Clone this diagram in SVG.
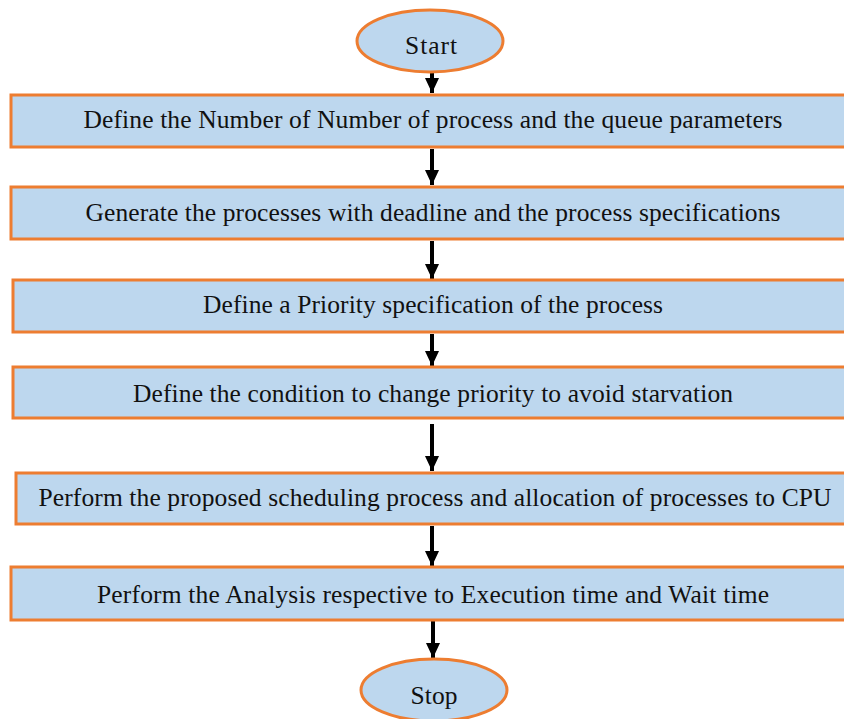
<svg xmlns="http://www.w3.org/2000/svg" width="844" height="719" viewBox="0 0 844 719">
<style>
.box{fill:#BDD7EE;stroke:#ED7D31;stroke-width:3}
.t{font-family:"Liberation Serif","Times New Roman",serif;font-size:25.5px;fill:#111;text-anchor:middle}
.c{stroke:#000;stroke-width:4;fill:none;marker-end:url(#ah)}
</style>
<defs>
<marker id="ah" markerUnits="userSpaceOnUse" markerWidth="16" markerHeight="14" refX="15" refY="7" orient="auto">
<path d="M0,0 L15,7 L0,14 Z" fill="#000"/>
</marker>
</defs>
<rect width="844" height="719" fill="#fff"/>
<g id="connectors">
<line class="c" x1="432" y1="73" x2="432" y2="93"/>
<line class="c" x1="432" y1="149" x2="432" y2="185"/>
<line class="c" x1="432" y1="241" x2="432" y2="279"/>
<line class="c" x1="432" y1="334" x2="432" y2="366"/>
<line class="c" x1="432" y1="424" x2="432" y2="471"/>
<line class="c" x1="432" y1="526" x2="432" y2="566"/>
<line class="c" x1="433" y1="621" x2="433" y2="658"/>
</g>
<g id="start">
<ellipse class="box" cx="430" cy="41" rx="73" ry="31"/>
<text class="t" x="431" y="54" textLength="52">Start</text>
</g>
<g id="step1">
<rect class="box" x="11" y="95" width="840" height="52"/>
<text class="t" x="433" y="128" textLength="699">Define the Number of Number of process and the queue parameters</text>
</g>
<g id="step2">
<rect class="box" x="11" y="187" width="840" height="52"/>
<text class="t" x="433" y="221" textLength="695">Generate the processes with deadline and the process specifications</text>
</g>
<g id="step3">
<rect class="box" x="13" y="280" width="840" height="52"/>
<text class="t" x="433" y="313" textLength="460">Define a Priority specification of the process</text>
</g>
<g id="step4">
<rect class="box" x="13" y="367" width="840" height="51"/>
<text class="t" x="433" y="402" textLength="600">Define the condition to change priority to avoid starvation</text>
</g>
<g id="step5">
<rect class="box" x="16" y="473" width="840" height="51"/>
<text class="t" x="435" y="506" textLength="793">Perform the proposed scheduling process and allocation of processes to CPU</text>
</g>
<g id="step6">
<rect class="box" x="11" y="567" width="840" height="53"/>
<text class="t" x="433" y="603" textLength="672">Perform the Analysis respective to Execution time and Wait time</text>
</g>
<g id="stop">
<ellipse class="box" cx="434" cy="690" rx="73" ry="31"/>
<text class="t" x="434" y="704" textLength="47">Stop</text>
</g>
</svg>
